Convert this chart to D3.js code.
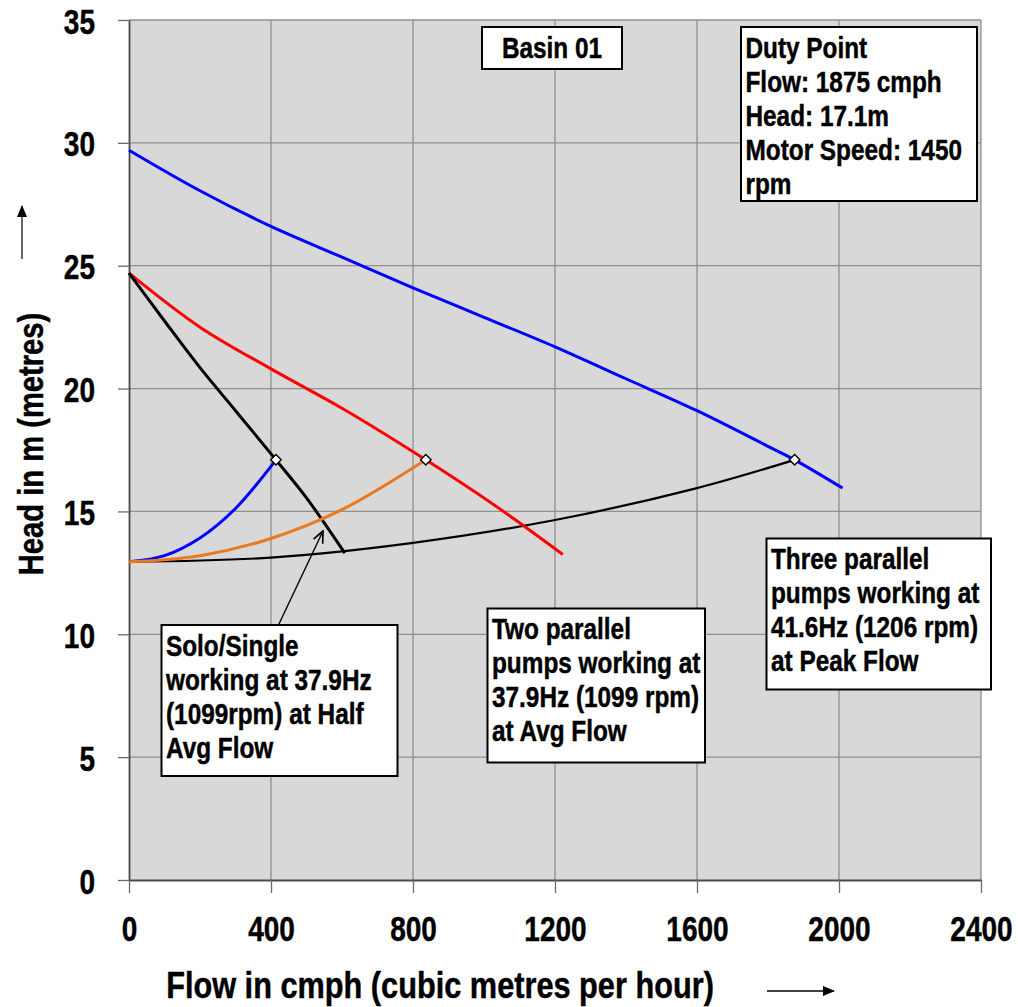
<!DOCTYPE html>
<html>
<head>
<meta charset="utf-8">
<script src="https://cdn.jsdelivr.net/npm/d3@7"></script>
<style>
  html, body { margin: 0; padding: 0; background: #ffffff; }
  svg text { font-family: "Liberation Sans", Arial, sans-serif; font-weight: bold; fill: #000; stroke: #000; stroke-width: 0.45px; }
</style>
</head>
<body>
<svg id="chart" width="1018" height="1007"></svg>
<script>
// ---- Axis ticks ----
const xTicks = [0, 400, 800, 1200, 1600, 2000, 2400];
const yTicks = [0, 5, 10, 15, 20, 25, 30, 35];

// ---- Pump head curves (flow in cmph, head in m) ----
// Three parallel pumps at 41.6 Hz
const threePumpFlow = [0, 200, 400, 600, 800, 1000, 1200, 1400, 1600, 1800, 1875, 2010];
const threePumpHead = [29.7, 28.05, 26.6, 25.35, 24.1, 22.9, 21.7, 20.4, 19.1, 17.65, 17.1, 15.95];
// Two parallel pumps at 37.9 Hz
const twoPumpFlow = [0, 200, 400, 600, 836, 1045, 1222];
const twoPumpHead = [24.7, 22.5, 20.8, 19.2, 17.1, 15.1, 13.25];
// Single pump at 37.9 Hz
const onePumpFlow = [0, 100, 200, 300, 414, 500, 608];
const onePumpHead = [24.7, 22.75, 20.85, 19.1, 17.1, 15.55, 13.3];

// ---- System curves ----
const sysOneFlow = [0, 100, 200, 300, 414];
const sysOneHead = [12.95, 13.2, 13.92, 15.12, 17.1];
const sysTwoFlow = [0, 200, 400, 600, 836];
const sysTwoHead = [12.95, 13.2, 13.9, 15.07, 17.1];
const sysThreeFlow = [0, 400, 800, 1200, 1600, 1875];
const sysThreeHead = [12.95, 13.12, 13.72, 14.65, 15.95, 17.1];

// ---- Duty points ----
const dutyFlow = [414, 836, 1875];
const dutyHead = [17.1, 17.1, 17.1];

// ---- Annotation text ----
const basinLines = ["Basin 01"];
const dutyLines = ["Duty Point", "Flow: 1875 cmph", "Head: 17.1m", "Motor Speed: 1450", "rpm"];
const soloLines = ["Solo/Single", "working at 37.9Hz", "(1099rpm) at Half", "Avg Flow"];
const twoLines = ["Two parallel", "pumps working at", "37.9Hz (1099 rpm)", "at Avg Flow"];
const threeLines = ["Three parallel", "pumps working at", "41.6Hz (1206 rpm)", "at Peak Flow"];

const xTitle = "Flow in cmph (cubic metres per hour)";
const yTitle = "Head in m (metres)";

// ---- Layout ----
const plot = { left: 129, right: 981, top: 20, bottom: 880 };

const svg = d3.select("#chart");
const x = d3.scaleLinear().domain([0, 2400]).range([plot.left, plot.right]);
const y = d3.scaleLinear().domain([0, 35]).range([plot.bottom, plot.top]);

const defs = svg.append("defs");
defs.append("marker")
  .attr("id", "solidHead").attr("viewBox", "0 0 12 10")
  .attr("refX", 11).attr("refY", 5)
  .attr("markerWidth", 12).attr("markerHeight", 10)
  .attr("markerUnits", "userSpaceOnUse")
  .attr("preserveAspectRatio", "none")
  .attr("orient", "auto")
  .append("path").attr("d", "M0,0 L12,5 L0,10 Z").attr("fill", "#000");
defs.append("marker")
  .attr("id", "openHead").attr("viewBox", "0 0 10 10")
  .attr("refX", 9).attr("refY", 5)
  .attr("markerWidth", 13).attr("markerHeight", 13)
  .attr("markerUnits", "userSpaceOnUse")
  .attr("orient", "auto")
  .append("path").attr("d", "M0,1 L9,5 L0,9").attr("fill", "none")
  .attr("stroke", "#000").attr("stroke-width", 1.3);

// Plot background
svg.append("rect")
  .attr("x", plot.left).attr("y", plot.top)
  .attr("width", plot.right - plot.left).attr("height", plot.bottom - plot.top)
  .attr("fill", "#d8d8d8");

// Grid lines
const grid = svg.append("g").attr("stroke", "#909090").attr("stroke-width", 1.3);
grid.selectAll("line.v").data(xTicks.slice(1)).join("line")
  .attr("x1", d => x(d)).attr("x2", d => x(d))
  .attr("y1", plot.top).attr("y2", plot.bottom);
grid.selectAll("line.h").data(yTicks.slice(1)).join("line")
  .attr("x1", plot.left).attr("x2", plot.right)
  .attr("y1", d => y(d)).attr("y2", d => y(d));

// Axes
const xAxis = svg.append("g")
  .attr("transform", `translate(0,${plot.bottom})`)
  .call(d3.axisBottom(x).tickValues(xTicks).tickSize(13).tickSizeOuter(0).tickFormat(d3.format("d")));
const yAxis = svg.append("g")
  .attr("transform", `translate(${plot.left},0)`)
  .call(d3.axisLeft(y).tickValues(yTicks).tickSize(11).tickSizeOuter(0).tickFormat(d3.format("d")));

[xAxis, yAxis].forEach(a => {
  a.select(".domain").attr("stroke", "#4a4a4a").attr("stroke-width", 1.8);
  a.selectAll(".tick line").attr("stroke", "#6a6a6a").attr("stroke-width", 1.3);
  a.selectAll(".tick text").attr("font-size", 35).attr("font-family", null).attr("fill", "#000");
});
xAxis.selectAll(".tick text")
  .attr("y", null).attr("dy", null).attr("x", null)
  .attr("text-anchor", "middle")
  .attr("transform", "translate(0,61) scale(0.8,1)");
yAxis.selectAll(".tick text")
  .attr("x", null).attr("dy", null).attr("y", null)
  .attr("text-anchor", "end")
  .attr("transform", "translate(-34,13) scale(0.8,1)");

// Curves
const line = d3.line().x(d => x(d[0])).y(d => y(d[1])).curve(d3.curveCatmullRom.alpha(0.5));
const zip = (a, b) => a.map((v, i) => [v, b[i]]);

const series = [
  { flow: sysThreeFlow, head: sysThreeHead, color: "#000000", width: 2.2 },
  { flow: threePumpFlow, head: threePumpHead, color: "#0000ff", width: 3 },
  { flow: twoPumpFlow, head: twoPumpHead, color: "#ff0000", width: 3 },
  { flow: onePumpFlow, head: onePumpHead, color: "#000000", width: 3 },
  { flow: sysOneFlow, head: sysOneHead, color: "#0000ff", width: 3 },
  { flow: sysTwoFlow, head: sysTwoHead, color: "#e97a1f", width: 3 }
];
svg.append("g").selectAll("path").data(series).join("path")
  .attr("d", s => line(zip(s.flow, s.head)))
  .attr("fill", "none")
  .attr("stroke", s => s.color)
  .attr("stroke-width", s => s.width)
  .attr("stroke-linejoin", "round");

// Duty point markers
svg.append("g").selectAll("path").data(zip(dutyFlow, dutyHead)).join("path")
  .attr("d", d3.symbol(d3.symbolDiamond2, 70))
  .attr("transform", d => `translate(${x(d[0])},${y(d[1])})`)
  .attr("fill", "#ffffff").attr("stroke", "#000").attr("stroke-width", 1.4);

// Annotation boxes
function textBox(lines, box, centered) {
  const g = svg.append("g");
  g.append("rect")
    .attr("x", box.left).attr("y", box.top)
    .attr("width", box.w).attr("height", box.h)
    .attr("fill", "#ffffff").attr("stroke", "#000").attr("stroke-width", 2);
  g.selectAll("text").data(lines).join("text")
    .attr("font-size", 29)
    .attr("text-anchor", centered ? "middle" : "start")
    .attr("transform", (d, i) => {
      const tx = centered ? box.left + box.w / 2 : box.left + 4.5;
      const ty = box.top + 30.5 + i * 34;
      return `translate(${tx},${ty}) scale(0.84,1)`;
    })
    .text(d => d);
}
textBox(basinLines, { left: 482, top: 27, w: 140, h: 42 }, true);
textBox(dutyLines, { left: 741, top: 27, w: 236, h: 174 }, false);
textBox(soloLines, { left: 161.5, top: 625, w: 236, h: 151 }, false);
textBox(twoLines, { left: 487.5, top: 608.5, w: 217.5, h: 154 }, false);
textBox(threeLines, { left: 766.5, top: 538.5, w: 224.5, h: 151 }, false);

// Pointer from the single-pump note to the operating curves
svg.append("line")
  .attr("x1", 278.5).attr("y1", 625).attr("x2", 323).attr("y2", 531)
  .attr("stroke", "#000").attr("stroke-width", 1.4)
  .attr("marker-end", "url(#openHead)");

// Axis titles
svg.append("text")
  .attr("font-size", 37).attr("text-anchor", "middle")
  .attr("transform", "translate(440,998) scale(0.83,1)")
  .text(xTitle);
svg.append("text")
  .attr("font-size", 36).attr("text-anchor", "middle")
  .attr("transform", "translate(43,444) rotate(-90) scale(0.81,1)")
  .text(yTitle);

// Direction arrows beside the titles
svg.append("line")
  .attr("x1", 767).attr("y1", 991).attr("x2", 834).attr("y2", 991)
  .attr("stroke", "#000").attr("stroke-width", 1.5)
  .attr("marker-end", "url(#solidHead)");
svg.append("line")
  .attr("x1", 22).attr("y1", 259).attr("x2", 22).attr("y2", 206)
  .attr("stroke", "#333").attr("stroke-width", 1.5)
  .attr("marker-end", "url(#solidHead)");
</script>
</body>
</html>
